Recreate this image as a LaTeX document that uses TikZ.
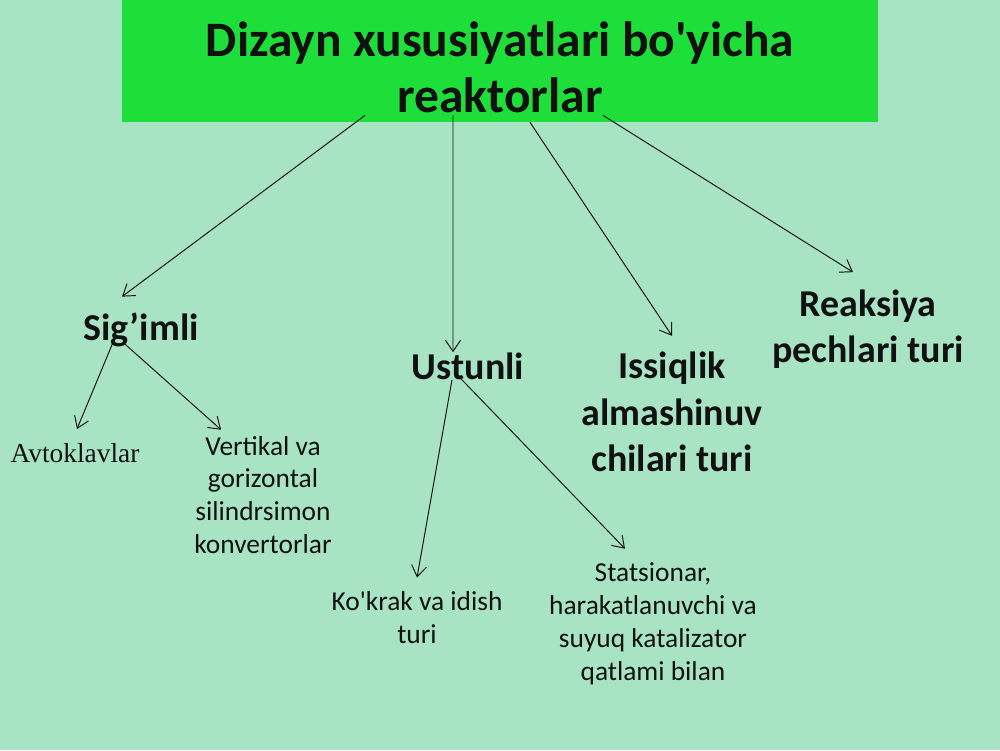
\documentclass[tikz,border=0pt]{standalone}
\usepackage{fontspec}
\setmainfont{Carlito}
\newfontfamily\timesfont{Liberation Serif}
\usetikzlibrary{arrows.meta}
\definecolor{bgmint}{RGB}{168,228,196}
\definecolor{headgreen}{RGB}{30,222,58}
\definecolor{inkc}{RGB}{17,17,17}

\begin{document}
\begin{tikzpicture}[x=0.2mm,y=-0.2mm,
		head/.style={font=\fontsize{28.2}{31.7}\selectfont\bfseries,align=center,text=inkc,inner sep=0},
		kind/.style={font=\fontsize{21.6}{26.4}\selectfont\bfseries,align=center,text=inkc,inner sep=0},
		sub/.style={font=\fontsize{15.6}{18.7}\selectfont,align=center,text=inkc,inner sep=0},
		link/.style={-{Straight Barb[length=2.2mm,width=3mm]},line width=0.55pt,draw=inkc}
		]
		%Draw background and heading
		\fill[bgmint] (0,0) rectangle (1000,750);
		\node[fill=headgreen,minimum width=151.2mm,minimum height=24.4mm,inner sep=0] (headbox) at (500,61) {};
		\node[head] (title) at (500,67) {Dizayn xususiyatlari bo\textquotesingle yicha\\reaktorlar};
		%Draw reactor kinds
		\node[kind] (sig) at (141,330) {Sig’imli};
		\node[kind] (ustun) at (468,366) {Ustunli};
		\node[kind] (issiq) at (672,412) {Issiqlik\\almashinuv\\chilari turi};
		\node[kind] (reak) at (868,329) {Reaksiya\\pechlari turi};
		%Draw sub kinds
		\node[sub,font=\fontsize{15.6}{18.7}\selectfont\timesfont] (avto) at (75,453) {Avtoklavlar};
		\node[sub] (vert) at (263,495) {Vertikal va\\gorizontal\\silindrsimon\\konvertorlar};
		\node[sub] (kok) at (417,618) {Ko\textquotesingle krak va idish\\turi};
		\node[sub] (stat) at (653,624) {Statsionar,\\harakatlanuvchi va\\suyuq katalizator\\qatlami bilan};
		
		\draw[link] ([xshift=-27mm,yshift=1.4mm]headbox.south) -- ([xshift=-3.8mm,yshift=3.2mm]sig.north);
		\draw[link] ([xshift=-9.4mm,yshift=1.4mm]headbox.south) -- ([xshift=-3mm]ustun.north);
		\draw[link] ([xshift=6mm]headbox.south) -- ([yshift=3.2mm]issiq.north);
		\draw[link] ([xshift=20.6mm,yshift=1.4mm]headbox.south) -- ([xshift=-3mm,yshift=3.4mm]reak.north);
		\draw[link] ([xshift=-5.6mm,yshift=1mm]sig.south) -- ([xshift=0.4mm,yshift=2.8mm]avto.north);
		\draw[link] ([xshift=-3.6mm,yshift=1mm]sig.south) -- ([xshift=5.4mm,yshift=1.2mm]vert.north west);
		\draw[link] ([xshift=-3.2mm]ustun.south) -- ([yshift=2.8mm]kok.north);
		\draw[link] ([xshift=-1.6mm,yshift=0.4mm]ustun.south) -- ([xshift=-5.6mm,yshift=2.8mm]stat.north);
	\end{tikzpicture}
\end{document}
